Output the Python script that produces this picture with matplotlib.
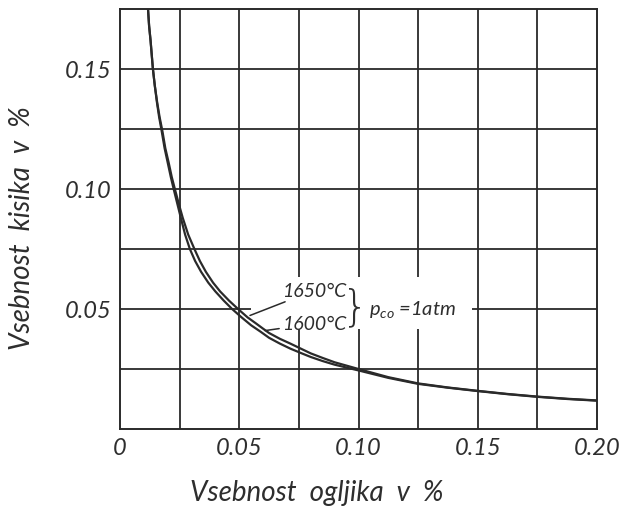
import matplotlib
matplotlib.use("Agg")
import matplotlib.pyplot as plt
from matplotlib.patches import Rectangle

# Data
x_1600 = [0.0117, 0.0122, 0.0128, 0.0133, 0.0138, 0.0146, 0.0155, 0.0164, 0.0175, 0.0187,
          0.0200, 0.0213, 0.0225, 0.0240, 0.0255, 0.0273, 0.0293, 0.0315, 0.0340, 0.0370,
          0.0400, 0.0435, 0.0470, 0.0510, 0.0550, 0.0590, 0.0625, 0.0670, 0.0714, 0.0760,
          0.0800, 0.0850, 0.0900, 0.1000, 0.1125, 0.1250, 0.1375, 0.1500, 0.1625, 0.1750,
          0.1875, 0.2000]
y_1600 = [0.1757, 0.1680, 0.1620, 0.1560, 0.1500, 0.1430, 0.1360, 0.1300, 0.1240, 0.1170,
          0.1110, 0.1050, 0.1000, 0.0940, 0.0880, 0.0810, 0.0750, 0.0700, 0.0655, 0.0610,
          0.0573, 0.0535, 0.0500, 0.0465, 0.0432, 0.0405, 0.0380, 0.0356, 0.0335, 0.0316,
          0.0300, 0.0283, 0.0268, 0.0244, 0.0213, 0.0188, 0.0172, 0.0158, 0.0145, 0.0134,
          0.0125, 0.0118]
x_1650 = [0.0117, 0.0122, 0.0128, 0.0133, 0.0138, 0.0146, 0.0156, 0.0166, 0.0178, 0.0190,
          0.0204, 0.0217, 0.0230, 0.0246, 0.0263, 0.0286, 0.0312, 0.0335, 0.0360, 0.0390,
          0.0420, 0.0457, 0.0495, 0.0535, 0.0570, 0.0600, 0.0625, 0.0670, 0.0714, 0.0760,
          0.0800, 0.0850, 0.0900, 0.1000, 0.1125, 0.1250, 0.1375, 0.1500, 0.1625, 0.1750,
          0.1875, 0.2000]
y_1650 = [0.1757, 0.1680, 0.1620, 0.1560, 0.1500, 0.1430, 0.1360, 0.1300, 0.1240, 0.1170,
          0.1110, 0.1050, 0.1000, 0.0940, 0.0880, 0.0810, 0.0750, 0.0700, 0.0655, 0.0610,
          0.0573, 0.0535, 0.0500, 0.0465, 0.0440, 0.0418, 0.0400, 0.0376, 0.0356, 0.0334,
          0.0315, 0.0296, 0.0278, 0.0250, 0.0216, 0.0190, 0.0173, 0.0159, 0.0146, 0.0135,
          0.0126, 0.0119]

x_ticks = [0, 0.05, 0.10, 0.15, 0.20]
x_ticklabels = ["0", "0.05", "0.10", "0.15", "0.20"]
y_ticks = [0.05, 0.10, 0.15]
y_ticklabels = ["0.05", "0.10", "0.15"]
grid_step = 0.025

plt.rcParams["mathtext.fontset"] = "custom"
plt.rcParams["mathtext.it"] = "Lato:italic"
plt.rcParams["mathtext.rm"] = "Lato:italic"

FONT = dict(family=["Lato", "DejaVu Sans"], style="italic", weight="normal", color="#2e2e2e")
INK = "#2a2a2a"

fig = plt.figure(figsize=(6.19, 5.10), dpi=100)
ax = fig.add_axes([120/619, 80/510, 477/619, 420/510])
ax.set_xlim(0, 0.20)
ax.set_ylim(0, 0.175)

# grid
gx = [i*grid_step for i in range(1, 8)]
gy = [i*grid_step for i in range(1, 7)]
for v in gx:
    ax.axvline(v, color=INK, lw=1.3, zorder=1)
for h in gy:
    ax.axhline(h, color=INK, lw=1.3, zorder=1)
# gap in grid behind annotation
ax.add_patch(Rectangle((0.0548, 0.0418), 0.1476-0.0548, 0.0632-0.0418,
                       facecolor="white", edgecolor="none", zorder=2))

ax.plot(x_1650, y_1650, color=INK, lw=1.6, zorder=3)
ax.plot(x_1600, y_1600, color=INK, lw=1.6, zorder=3)

for s in ax.spines.values():
    s.set_color(INK)
    s.set_linewidth(1.4)

ax.set_xticks(x_ticks)
ax.set_xticklabels(x_ticklabels, **FONT, fontsize=17)
ax.set_yticks(y_ticks)
ax.set_yticklabels(y_ticklabels, **FONT, fontsize=17)
ax.tick_params(length=0, pad=6)

# annotations
ax.annotate("1650°C", xy=(0.0545, 0.0473), xytext=(0.0679, 0.0577),
            ha="left", va="center", fontsize=14, **FONT,
            arrowprops=dict(arrowstyle="-", color=INK, lw=1.1, shrinkA=0, shrinkB=0))
ax.annotate("1600°C", xy=(0.0608, 0.0410), xytext=(0.0679, 0.0439),
            ha="left", va="center", fontsize=14, **FONT,
            arrowprops=dict(arrowstyle="-", color=INK, lw=1.1, shrinkA=0, shrinkB=0))
ax.text(0.0988, 0.0508, "}", ha="center", va="center", fontsize=30,
        family=["DejaVu Sans"], weight="light", color="#2e2e2e", zorder=4)
ax.text(0.1045, 0.0502, r"$p_{co}$ =1atm", ha="left", va="center", fontsize=14.5, **FONT)

fig.text(317/619, 1-493/510, "Vsebnost  ogljika  v  %", ha="center", va="center",
         fontsize=20, **FONT)
fig.text(22/619, 1-228/510, "Vsebnost  kisika  v  %", ha="center", va="center",
         rotation=90, fontsize=20, **FONT)

fig.savefig("out.png", dpi=100)
